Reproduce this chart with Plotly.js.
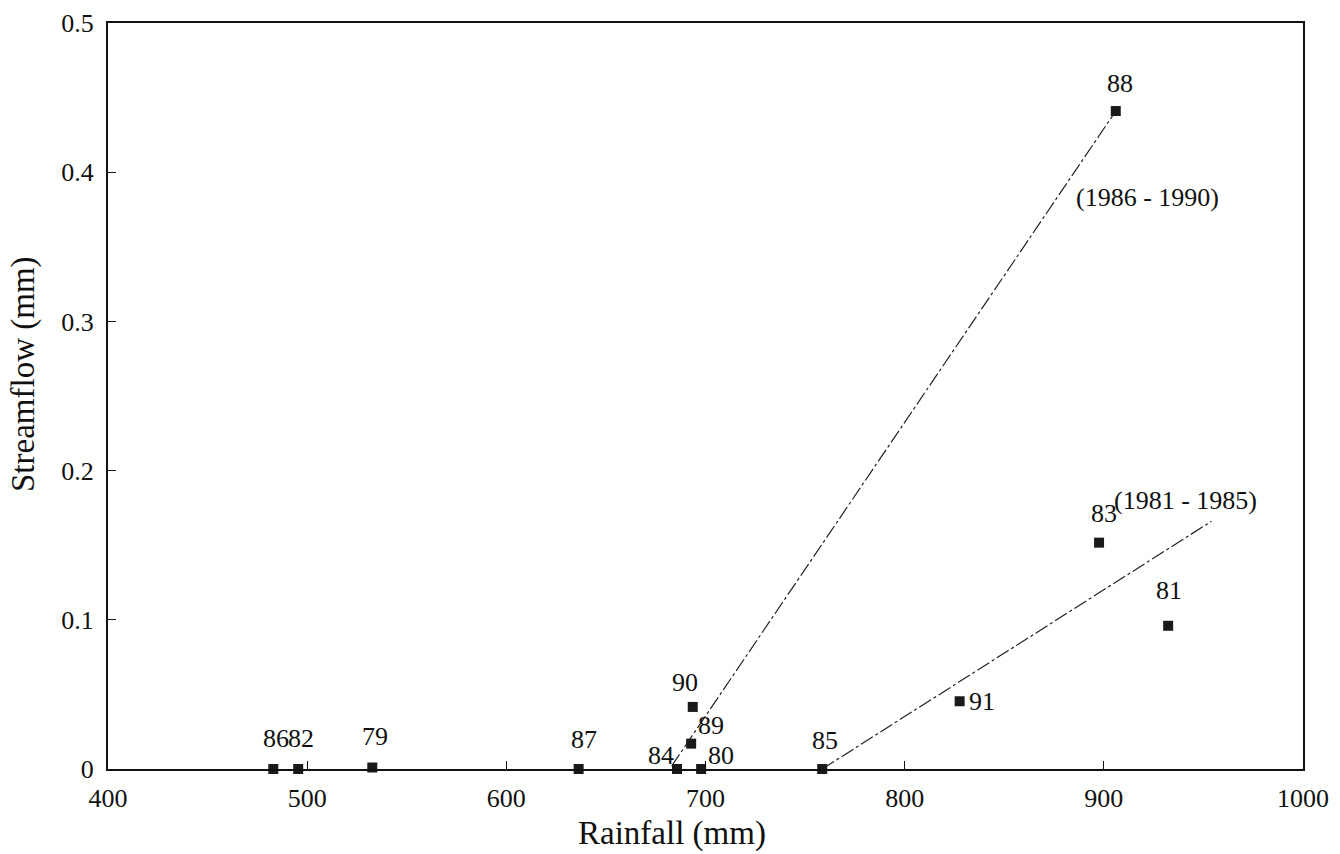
<!DOCTYPE html>
<html>
<head>
<meta charset="utf-8">
<script src="https://cdn.plot.ly/plotly-3.0.1.min.js"></script>
<style>body{margin:0;background:#fff;}#chart{width:1340px;height:854px;}</style>
</head>
<body>
<div id="chart"></div>
<script>
const years = ["86","82","79","87","84","90","89","80","85","91","83","81","88"];
const rainfall = [483, 495.5, 532.7, 636.3, 685.7, 693.6, 692.8, 697.8, 758.6, 827.6, 897.6, 932.3, 906];
const streamflow = [0, 0, 0.001, 0, 0, 0.0416, 0.017, 0, 0, 0.0454, 0.1517, 0.096, 0.441];

// label offsets in pixels (style only)
const labelDX = [3, 3, 3, 5, -16, -8, 20, 20, 3, 22, 5, 1, 4];
const labelDY = [31, 31, 31, 30, 14, 24, 18, 14, 29, 0, 29, 35, 28];

const line8690X = [683, 906];
const line8690Y = [0.002, 0.441];
const line8185X = [758.6, 954];
const line8185Y = [0, 0.166];

const periodLabels = ["(1986 - 1990)", "(1981 - 1985)"];
const periodX = [922, 941];
const periodY = [0.383, 0.18];

const serif = "Liberation Serif, Times New Roman, serif";
const ink = "#111";

const traces = [
  {x: line8690X, y: line8690Y, mode: "lines", line: {color: "#222", width: 1.2, dash: "14px,3px,3px,3px"}, hoverinfo: "skip", showlegend: false},
  {x: line8185X, y: line8185Y, mode: "lines", line: {color: "#222", width: 1.2, dash: "14px,3px,3px,3px"}, hoverinfo: "skip", showlegend: false},
  {x: rainfall, y: streamflow, mode: "markers",
   marker: {symbol: "square", size: 10, color: "#1a1a1a"}, showlegend: false, cliponaxis: false}
];

const annotations = years.map((t, i) => ({
  x: rainfall[i], y: streamflow[i], xref: "x", yref: "y", text: t, showarrow: false,
  xanchor: "center", yanchor: "middle", xshift: labelDX[i], yshift: labelDY[i],
  font: {family: serif, size: 26, color: ink}
}));
periodLabels.forEach((t, i) => annotations.push({
  x: periodX[i], y: periodY[i], xref: "x", yref: "y", text: t, showarrow: false,
  xanchor: "center", yanchor: "middle", font: {family: serif, size: 26, color: ink}
}));
annotations.push({x: 0.472, y: -0.086, xref: "paper", yref: "paper", text: "Rainfall (mm)", showarrow: false,
  xanchor: "center", yanchor: "middle", font: {family: serif, size: 33, color: ink}});
annotations.push({x: -0.0703, y: 0.5295, xref: "paper", yref: "paper", text: "Streamflow (mm)", showarrow: false,
  textangle: -90, xanchor: "center", yanchor: "middle", font: {family: serif, size: 33, color: ink}});

const layout = {
  width: 1340, height: 854,
  margin: {l: 108, r: 37, t: 23, b: 85},
  paper_bgcolor: "#fff", plot_bgcolor: "#fff",
  font: {family: serif, color: ink},
  xaxis: {
    range: [400, 1000], tickvals: [400,500,600,700,800,900,1000],
    ticks: "inside", ticklen: 8, tickcolor: ink, tickwidth: 1.2,
    showgrid: false, zeroline: false, showline: true, linecolor: ink, linewidth: 2, mirror: true,
    ticklabelstandoff: 5,
    tickfont: {family: serif, size: 26, color: ink}
  },
  yaxis: {
    range: [0, 0.5], tickvals: [0,0.1,0.2,0.3,0.4,0.5], ticktext: ["0","0.1","0.2","0.3","0.4","0.5"],
    ticks: "inside", ticklen: 8, tickcolor: ink, tickwidth: 1.2,
    showgrid: false, zeroline: false, showline: true, linecolor: ink, linewidth: 2, mirror: true,
    ticklabelstandoff: 7,
    tickfont: {family: serif, size: 26, color: ink}
  },
  annotations: annotations
};

Plotly.newPlot("chart", traces, layout, {displayModeBar: false, staticPlot: true});
</script>
</body>
</html>
